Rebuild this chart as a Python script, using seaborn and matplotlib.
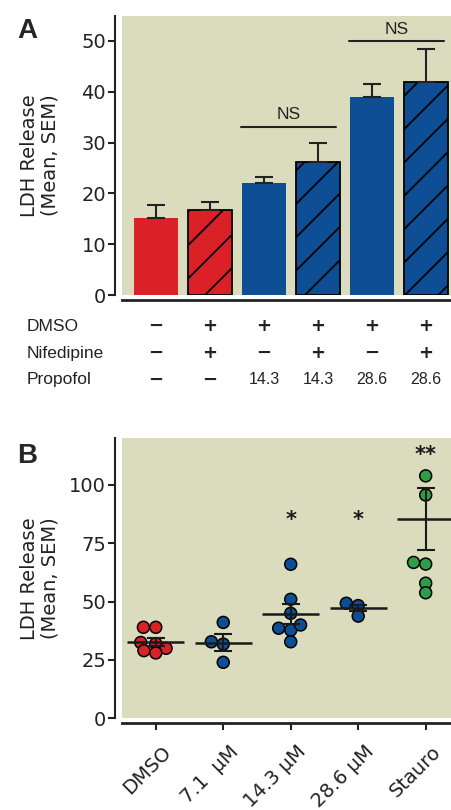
import seaborn as sns
import numpy as np
import pandas as pd
import matplotlib.pyplot as plt
import matplotlib.transforms as mtransforms

# ---- Panel A data (bar chart) ----
conditions = ["DMSO", "DMSO+Nif", "P14.3", "P14.3+Nif", "P28.6", "P28.6+Nif"]
ldh_mean = [15.2, 16.7, 22.0, 26.1, 39.0, 41.9]
ldh_sem = [2.5, 1.7, 1.3, 3.9, 2.5, 6.5]
bar_colors = ["#DA2128", "#DA2128", "#0D4E94", "#0D4E94", "#0D4E94", "#0D4E94"]
hatched = [False, True, False, True, False, True]

row_labels = ["DMSO", "Nifedipine", "Propofol"]
dmso_row = ["\u2212", "+", "+", "+", "+", "+"]
nif_row = ["\u2212", "+", "\u2212", "+", "\u2212", "+"]
propofol_row = ["\u2212", "\u2212", "14.3", "14.3", "28.6", "28.6"]

ns_pairs = [(2, 3), (4, 5)]
ns_heights = [33.1, 49.9]

# ---- Panel B data (individual points) ----
groups = ["DMSO", "7.1  \u00b5M", "14.3 \u00b5M", "28.6 \u00b5M", "Stauro"]
dmso_pts = [39.0, 39.0, 32.0, 32.5, 30.0, 28.0, 29.0]
p71_pts = [41.1, 32.8, 31.8, 24.0]
p143_pts = [66.0, 51.0, 45.0, 37.8, 38.6, 40.0, 32.8]
p286_pts = [49.3, 48.3, 43.8]
stauro_pts = [103.9, 95.7, 66.1, 66.8, 57.9, 53.8]
group_means = [32.8, 32.4, 44.7, 47.1, 85.3]
group_sems = [1.7, 3.6, 4.1, 1.3, 13.2]
group_colors = ["#DA2128", "#0D4E94", "#0D4E94", "#0D4E94", "#2E9D47"]
stars = ["", "", "*", "*", "**"]
star_heights = [0, 0, 85, 85, 113]

bg = "#DBDBBD"

sns.set_style("ticks")
plt.rcParams["font.family"] = ["DejaVu Sans"]
plt.rcParams["hatch.linewidth"] = 1.3
plt.rcParams["hatch.color"] = "black"

fig = plt.figure(figsize=(4.52, 8.10), dpi=100)
axA = fig.add_axes([0.270, 0.6358, 0.730, 0.345])
axB = fig.add_axes([0.270, 0.1132, 0.730, 0.3457])

for ax in (axA, axB):
    ax.set_facecolor(bg)
    sns.despine(ax=ax)
    ax.spines["left"].set_position(("outward", 5))
    ax.spines["bottom"].set_position(("outward", 3.6))
    ax.spines["left"].set_linewidth(1.5)
    ax.spines["bottom"].set_linewidth(2.0)
    ax.spines["left"].set_color("#222222")
    ax.spines["bottom"].set_color("#222222")
    ax.tick_params(axis="y", length=5, width=1.5, color="#222222",
                   labelsize=14, labelcolor="#222222", pad=1.5)
    ax.set_ylabel("LDH Release\n(Mean, SEM)", fontsize=14, linespacing=1.1,
                  color="#222222")
    ax.yaxis.set_label_coords(-0.19, 0.5)

# ---- Panel A ----
dfA = pd.DataFrame({"cond": conditions, "ldh": ldh_mean})
sns.barplot(data=dfA, x="cond", y="ldh", hue="cond", palette=bar_colors,
            order=conditions, errorbar=None, width=0.8, legend=False,
            saturation=1, ax=axA)
for patch, h in zip(axA.patches, hatched):
    if h:
        patch.set_hatch("/")
        patch.set_edgecolor("black")
        patch.set_linewidth(1.3)
    else:
        patch.set_linewidth(0)
xs = np.arange(len(conditions))
axA.errorbar(xs, ldh_mean, yerr=[np.zeros(len(xs)), ldh_sem], fmt="none",
             ecolor="#222222", elinewidth=1.5, capsize=6.5, capthick=1.5)
for (a, b), h in zip(ns_pairs, ns_heights):
    axA.plot([a - 0.43, b + 0.33], [h, h], color="#222222", lw=1.5)
    axA.text((a + b) / 2 - 0.05, h + 0.9, "NS", ha="center", va="bottom",
             fontsize=12.5, family="Liberation Sans", color="#222222")
axA.set_xlim(-0.63, 5.48)
axA.set_ylim(0, 55)
axA.set_yticks([0, 10, 20, 30, 40, 50])
axA.tick_params(axis="x", length=0, labelbottom=False)
axA.set_xlabel("")

row_y = [0.5975, 0.564, 0.531]
trans = mtransforms.blended_transform_factory(axA.transData, fig.transFigure)
for lab, row, y in zip(row_labels, [dmso_row, nif_row, propofol_row], row_y):
    fig.text(0.058, y, lab, ha="left", va="center", fontsize=12.5,
             family="Liberation Sans", color="#222222")
    for i, s in enumerate(row):
        sym = s in ("+", "\u2212")
        axA.text(i, y, s, transform=trans, ha="center", va="center",
                 fontsize=13 if sym else 11.5, fontweight="bold" if sym else "normal",
                 family="DejaVu Sans" if sym else "Liberation Sans",
                 color="#222222", clip_on=False)

fig.text(0.038, 0.953, "A", fontsize=20, fontweight="bold",
         family="Liberation Sans", va="baseline")

# ---- Panel B ----
all_pts = [dmso_pts, p71_pts, p143_pts, p286_pts, stauro_pts]
dfB = pd.DataFrame({
    "group": np.concatenate([[g] * len(p) for g, p in zip(groups, all_pts)]),
    "ldh": np.concatenate(all_pts),
})
# lay the swarm out with slightly smaller markers so dots overlap like the original
sns.swarmplot(data=dfB, x="group", y="ldh", hue="group", order=groups,
              hue_order=groups, palette=group_colors, size=7.2,
              edgecolor="black", linewidth=1.1, legend=False, ax=axB)
fig.canvas.draw()
for coll in axB.collections:
    if "draw" in coll.__dict__:
        del coll.draw
        coll.set_sizes([8.6 ** 2])

gx = np.arange(len(groups))
axB.hlines(group_means, gx - 0.42, gx + 0.42, color="#1a1a1a", lw=1.8, zorder=4)
axB.errorbar(gx, group_means, yerr=group_sems, fmt="none", ecolor="#1a1a1a",
             elinewidth=1.5, capsize=6.5, capthick=1.5, zorder=4)
for i, (s, h) in enumerate(zip(stars, star_heights)):
    if s:
        axB.text(i, h, s, ha="center", va="center", fontsize=15,
                 fontweight="bold", color="#1a1a1a")
axB.set_xlim(-0.5, 4.39)
axB.set_ylim(0, 120)
axB.set_yticks([0, 25, 50, 75, 100])
axB.set_xlabel("")
axB.tick_params(axis="x", length=5, width=1.5, color="#222222",
                labelsize=14, labelcolor="#222222")
offset = mtransforms.ScaledTranslation(6 / 100, -7 / 100, fig.dpi_scale_trans)
for lab in axB.get_xticklabels():
    lab.set_rotation(45)
    lab.set_ha("right")
    lab.set_va("top")
    lab.set_rotation_mode("anchor")
    lab.set_transform(lab.get_transform() + offset)

fig.text(0.038, 0.428, "B", fontsize=20, fontweight="bold",
         family="Liberation Sans", va="baseline")

fig.savefig("out.png", dpi=100)
